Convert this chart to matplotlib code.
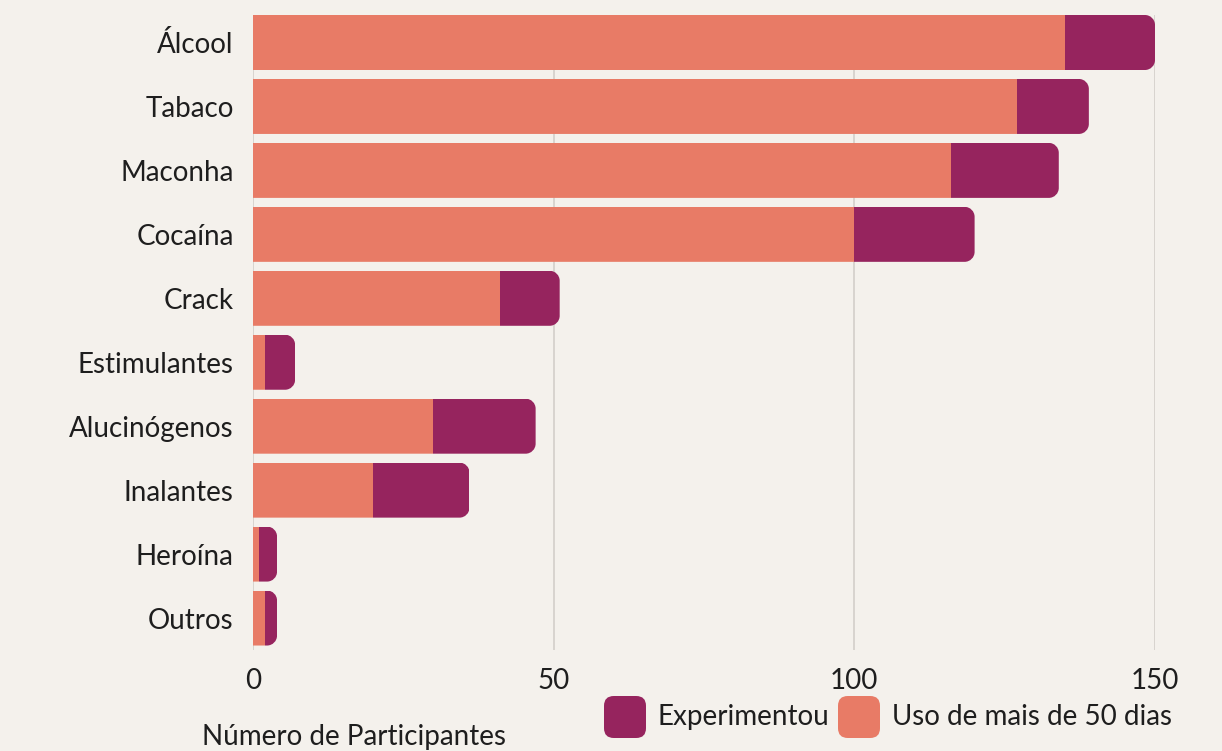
import matplotlib
matplotlib.use("Agg")
import matplotlib.pyplot as plt
from matplotlib.path import Path
from matplotlib.patches import PathPatch, FancyBboxPatch

categories = ["Álcool", "Tabaco", "Maconha", "Cocaína", "Crack",
              "Estimulantes", "Alucinógenos", "Inalantes", "Heroína", "Outros"]
uso_50_dias = [135, 127, 116, 100, 41, 2, 30, 20, 1, 2]
experimentou = [15, 12, 18, 20, 10, 5, 17, 16, 3, 2]
x_ticks = [0, 50, 100, 150]

BG = "#f4f1ec"
ORANGE = "#e87b66"
PURPLE = "#96245e"
GRID = "#d6d1cc"
TEXT = "#1e1e1e"
FS = 20

plt.rcParams["font.family"] = ["Lato", "DejaVu Sans"]

fig = plt.figure(figsize=(12.22, 7.51), dpi=100, facecolor=BG)
ax = fig.add_axes([253 / 1222, 101 / 751, (1155 - 253) / 1222, (736 - 101) / 751])
ax.set_facecolor(BG)

ax.set_xlim(0, 150)
ax.set_ylim(len(categories) - 0.5, -0.43)

bar_h = 0.86
# corner radius in pixels, converted to data units on each axis
fig.canvas.draw()
px_per_x = ax.transData.transform((1, 0))[0] - ax.transData.transform((0, 0))[0]
px_per_y = abs(ax.transData.transform((0, 1))[1] - ax.transData.transform((0, 0))[1])
radius_px = 10
rx = radius_px / px_per_x
ry = radius_px / px_per_y
k = 0.5523


def right_rounded_path(x0, x1, yc, h):
    y0, y1 = yc - h / 2, yc + h / 2
    r_x = min(rx, (x1 - x0))
    verts = [
        (x0, y0),
        (x1 - r_x, y0),
        (x1 - r_x + k * r_x, y0), (x1, y0 + ry - k * ry), (x1, y0 + ry),
        (x1, y1 - ry),
        (x1, y1 - ry + k * ry), (x1 - r_x + k * r_x, y1), (x1 - r_x, y1),
        (x0, y1),
        (x0, y0),
    ]
    codes = [Path.MOVETO, Path.LINETO,
             Path.CURVE4, Path.CURVE4, Path.CURVE4,
             Path.LINETO,
             Path.CURVE4, Path.CURVE4, Path.CURVE4,
             Path.LINETO, Path.CLOSEPOLY]
    return Path(verts, codes)


for i, (u, e) in enumerate(zip(uso_50_dias, experimentou)):
    total = u + e
    clip = PathPatch(right_rounded_path(0, total, i, bar_h), transform=ax.transData)
    b1 = ax.barh(i, u, height=bar_h, left=0, color=ORANGE, linewidth=0, zorder=3)
    b2 = ax.barh(i, e, height=bar_h, left=u, color=PURPLE, linewidth=0, zorder=3)
    for r in list(b1) + list(b2):
        r.set_clip_path(clip)

ax.set_yticks(range(len(categories)))
ax.set_yticklabels(categories, fontsize=FS, color=TEXT)
ax.set_xticks(x_ticks)
ax.set_xticklabels([str(t) for t in x_ticks], fontsize=FS, color=TEXT)
ax.tick_params(axis="both", length=0)
ax.tick_params(axis="y", pad=14)
ax.tick_params(axis="x", pad=13)

ax.grid(axis="x", color=GRID, linewidth=1.3, zorder=0)
ax.grid(axis="y", visible=False)
for s in ax.spines.values():
    s.set_visible(False)
ax.set_axisbelow(True)

# x-axis title, sitting on the bottom edge of the figure
fig.text(354 / 1222, 1.5 / 751, "Número de Participantes", fontsize=FS,
         color=TEXT, ha="center", va="bottom")

# legend with rounded swatches
legend_items = [("Experimentou", PURPLE, 604), ("Uso de mais de 50 dias", ORANGE, 838)]
sw = 42
yc = 717
for label, color, x0 in legend_items:
    patch = FancyBboxPatch((x0 / 1222, 1 - (yc + sw / 2) / 751), sw / 1222, sw / 751,
                           boxstyle="round,pad=0,rounding_size=0.008",
                           transform=fig.transFigure, facecolor=color,
                           edgecolor="none", mutation_aspect=1222 / 751)
    fig.add_artist(patch)
    fig.text((x0 + sw + 12) / 1222, 1 - yc / 751, label, fontsize=FS,
             color=TEXT, ha="left", va="center")

fig.savefig("out.png", dpi=100, facecolor=BG)
